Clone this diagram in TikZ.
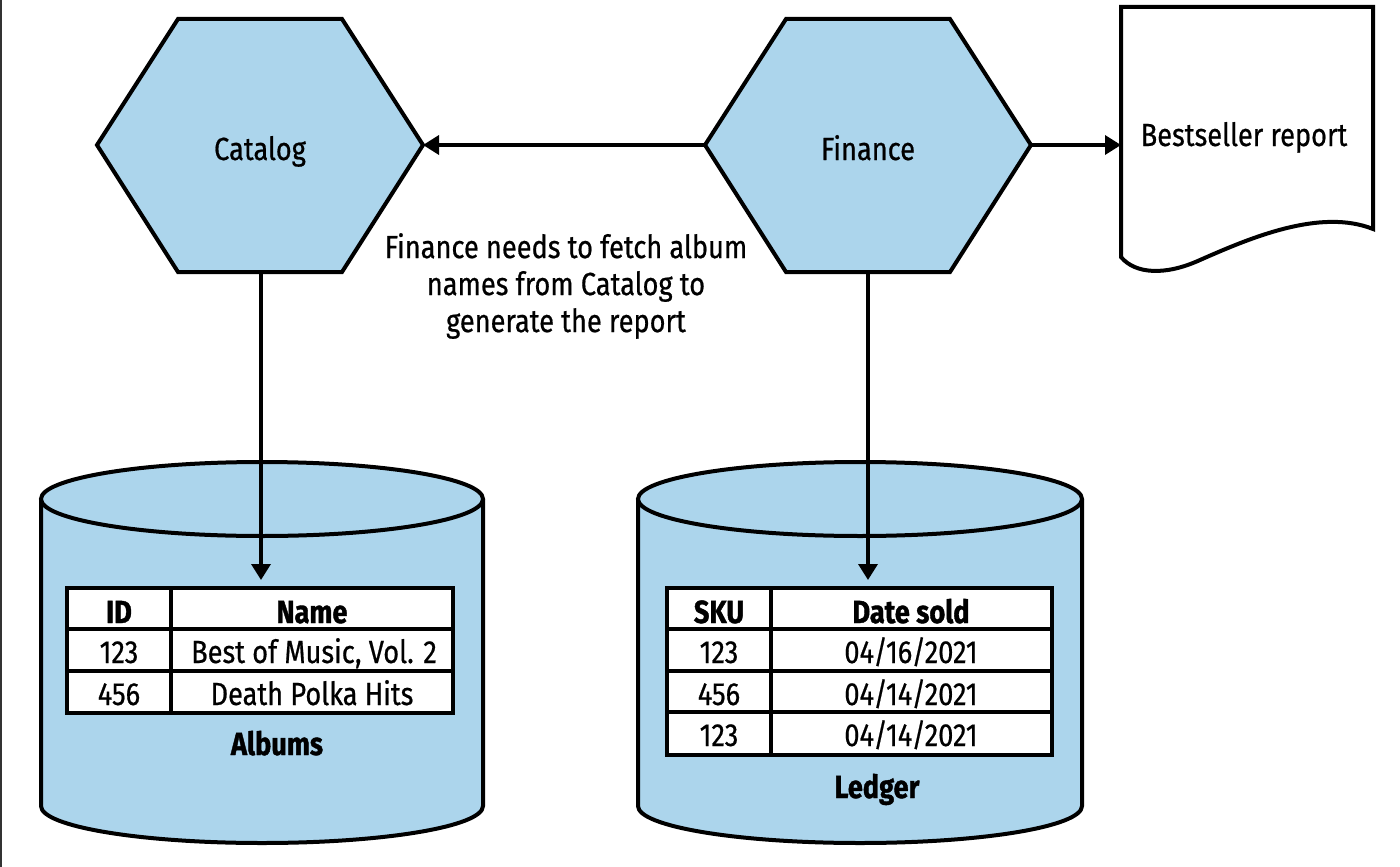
\documentclass[tikz,border=0pt]{standalone}
\usepackage{fontspec}
\setmainfont{Fira Sans}[FakeStretch=0.85,UprightFeatures={FakeBold=0.6},BoldFeatures={FakeBold=1.2}]
\usetikzlibrary{arrows.meta}
\definecolor{hexblue}{RGB}{172,213,236}
\begin{document}
\begin{tikzpicture}[x=1pt,y=-1pt,
  shapeline/.style={draw=black,line width=4pt,line join=miter},
  tabline/.style={draw=black,line width=3.5pt},
  conn/.style={draw=black,line width=3.5pt,-{Triangle[length=16pt,width=19pt]}},
  lbl/.style={font=\fontsize{32}{37}\selectfont,inner sep=0pt},
  cell/.style={font=\fontsize{32}{36}\selectfont,inner sep=0pt,anchor=base},
  hcell/.style={font=\bfseries\fontsize{32}{36}\selectfont,inner sep=0pt,anchor=base},
]
\useasboundingbox (0,0) rectangle (1400,867);
\fill[white] (0,0) rectangle (1400,867);
\draw[black!80,line width=1.5pt] (0.75,0) -- (0.75,867);

% Catalog hexagon
\path[shapeline,fill=hexblue] (97,145) -- (178,19) -- (342,19) -- (423,145) -- (342,272) -- (178,272) -- cycle;
\coordinate (catE) at (423,145);
\coordinate (catS) at (261,272);
\node[lbl,anchor=base] (catalog) at (260,160) {Catalog};

% Finance hexagon
\path[shapeline,fill=hexblue] (705,145) -- (786,19) -- (950,19) -- (1031,145) -- (950,272) -- (786,272) -- cycle;
\coordinate (finW) at (705,145);
\coordinate (finE) at (1031,145);
\coordinate (finS) at (868,272);
\node[lbl,anchor=base] (finance) at (868,160) {Finance};

% Bestseller report document
\path[shapeline,fill=white] (1121,7) -- (1373,7) -- (1373,229)
  .. controls (1320,208) and (1250,238) .. (1200,260)
  .. controls (1165,276) and (1135,274) .. (1121,257) -- cycle;
\coordinate (docW) at (1121,145);
\node[lbl,anchor=base] (report) at (1244,146) {Bestseller report};

% Middle annotation
\node[lbl,align=center] (note) at (566,286) {Finance needs to fetch album\\names from Catalog to\\generate the report};

% Albums cylinder
\path[fill=hexblue] (41,499) -- (41,806) arc[start angle=180,end angle=360,x radius=221pt,y radius=37pt] -- (483,499) -- cycle;
\draw[shapeline] (41,499) -- (41,806) arc[start angle=180,end angle=360,x radius=221pt,y radius=37pt] -- (483,499);
\draw[shapeline,fill=hexblue] (262,499) ellipse[x radius=221pt,y radius=37pt];
\coordinate (albTab) at (261,580);

% Albums table
\draw[tabline,fill=white] (67,588) rectangle (453,713);
\draw[tabline] (171,588) -- (171,713) (67,629) -- (453,629) (67,671) -- (453,671);
\node[hcell] (aID) at (119,623) {ID};
\node[hcell] (aName) at (312,623) {Name};
\node[cell] (a1) at (119,663) {123};
\node[cell] (a1n) at (314,663) {Best of Music, Vol. 2};
\node[cell] (a2) at (119,705) {456};
\node[cell] (a2n) at (312,705) {Death Polka Hits};
\node[hcell] (albums) at (277,755) {Albums};

% Ledger cylinder
\path[fill=hexblue] (638,499) -- (638,806) arc[start angle=180,end angle=360,x radius=222pt,y radius=37pt] -- (1082,499) -- cycle;
\draw[shapeline] (638,499) -- (638,806) arc[start angle=180,end angle=360,x radius=222pt,y radius=37pt] -- (1082,499);
\draw[shapeline,fill=hexblue] (860,499) ellipse[x radius=222pt,y radius=37pt];
\coordinate (ledTab) at (868,580);

% Ledger table
\draw[tabline,fill=white] (667,588) rectangle (1052,755);
\draw[tabline] (771,588) -- (771,755) (667,629) -- (1052,629) (667,671) -- (1052,671) (667,712) -- (1052,712);
\node[hcell] (lSKU) at (719,623) {SKU};
\node[hcell] (lDate) at (911,623) {Date sold};
\node[cell] (l1) at (719,663) {123};
\node[cell] (l1d) at (911,663) {04/16/2021};
\node[cell] (l2) at (719,705) {456};
\node[cell] (l2d) at (911,705) {04/14/2021};
\node[cell] (l3) at (719,746) {123};
\node[cell] (l3d) at (911,746) {04/14/2021};
\node[hcell] (ledger) at (877,798) {Ledger};

% Connectors
\draw[conn] (finW) -- (catE);
\draw[conn] (finE) -- (docW);
\draw[conn] (catS) -- (albTab);
\draw[conn] (finS) -- (ledTab);
\end{tikzpicture}
\end{document}
